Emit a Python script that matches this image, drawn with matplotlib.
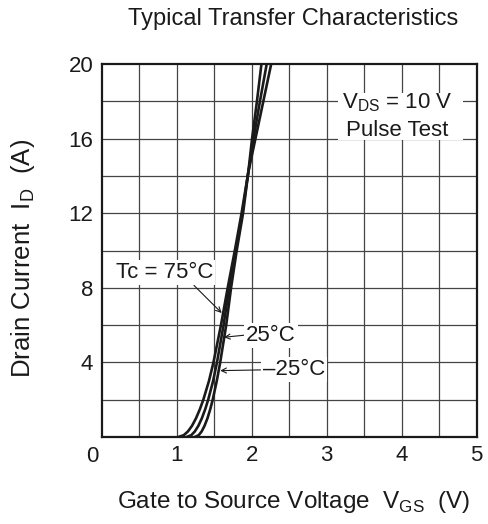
import matplotlib
matplotlib.use("Agg")
import matplotlib.pyplot as plt
from matplotlib.patches import Rectangle

FONT = ["Liberation Sans", "DejaVu Sans"]
plt.rcParams["font.family"] = FONT
plt.rcParams["mathtext.fontset"] = "custom"
plt.rcParams["mathtext.rm"] = "Liberation Sans"

# Transfer curves (I_D in A, V_GS in V)
id_pts = [0, 0.1, 0.3, 0.6, 1.0, 1.5, 2.0, 3.0, 4.0, 6.0, 8.0, 10.0, 12.0, 14.2, 16.0, 18.0, 20.0]
vgs_75 = [1.02, 1.095, 1.15, 1.204, 1.257, 1.31, 1.355, 1.43, 1.49, 1.59, 1.68, 1.775, 1.865,
          1.955, 2.05, 2.155, 2.26]
vgs_25 = [1.13, 1.195, 1.242, 1.289, 1.335, 1.381, 1.42, 1.485, 1.537, 1.625, 1.70, 1.79, 1.875,
          1.955, 2.025, 2.11, 2.20]
vgs_m25 = [1.24, 1.294, 1.333, 1.371, 1.41, 1.448, 1.48, 1.534, 1.58, 1.66, 1.725, 1.80, 1.885,
           1.955, 2.005, 2.07, 2.13]

x_ticks = [1, 2, 3, 4, 5]
y_ticks = [4, 8, 12, 16, 20]

INK = "#1a1a1a"
FS = 16

fig = plt.figure(figsize=(4.88, 5.24), dpi=100)
ax = fig.add_axes([0.2084, 0.166, 0.7684, 0.7118])
ax.set_xlim(0, 5)
ax.set_ylim(0, 20)

# grid every 0.5 V / 2 A
for gx in [i * 0.5 for i in range(1, 10)]:
    ax.axvline(gx, color="#444444", lw=0.9, zorder=1)
for gy in range(2, 20, 2):
    ax.axhline(gy, color="#444444", lw=0.9, zorder=1)

ax.add_patch(Rectangle((3.15, 15.95), 1.67, 2.5, facecolor="white", edgecolor="none", zorder=2))

for v in [vgs_75, vgs_25, vgs_m25]:
    ax.plot(v, id_pts, color=INK, lw=1.9, zorder=3, solid_capstyle="butt")

for s in ax.spines.values():
    s.set_linewidth(1.6)
    s.set_color(INK)
    s.set_zorder(5)

ax.set_xticks(x_ticks)
ax.set_yticks(y_ticks)
ax.tick_params(length=0, labelsize=FS, pad=6, colors=INK)
ax.text(-0.13, -0.052, "0", transform=ax.get_xaxis_transform(), ha="center", va="center",
        fontsize=FS, color=INK)

ax.text(3.94, 17.9, r"V$_\mathregular{DS}$ = 10 V", ha="center", va="center", fontsize=FS,
        color=INK, zorder=4)
ax.text(3.94, 16.45, "Pulse Test", ha="center", va="center", fontsize=FS, color=INK, zorder=4)

arrow = dict(arrowstyle="->", color=INK, lw=0.8, mutation_scale=9, shrinkA=0, shrinkB=0)
box = dict(facecolor="white", edgecolor="none", pad=1.5)
ax.annotate("Tc = 75°C", xy=(1.60, 6.65), xytext=(0.84, 8.8), ha="center", va="center",
            fontsize=FS, color=INK, bbox=box, zorder=4,
            arrowprops=dict(arrow, relpos=(0.78, 0.0)))
ax.annotate("25°C", xy=(1.63, 5.35), xytext=(2.26, 5.47), ha="center", va="center",
            fontsize=FS, color=INK, bbox=box, zorder=4,
            arrowprops=dict(arrow, relpos=(0.0, 0.5)))
ax.annotate("\u201325°C", xy=(1.58, 3.56), xytext=(2.56, 3.6), ha="center", va="center",
            fontsize=FS, color=INK, bbox=box, zorder=4,
            arrowprops=dict(arrow, relpos=(0.0, 0.5)))

fig.text(0.601, 1 - 19 / 524, "Typical Transfer Characteristics", ha="center", va="center",
         fontsize=17, color=INK)
fig.text(0.602, 1 - 502 / 524, r"Gate to Source Voltage  V$_\mathregular{GS}$  (V)",
         ha="center", va="center", fontsize=17.5, color=INK)
fig.text(23 / 488, 1 - 258 / 524, r"Drain Current  I$_\mathregular{D}$  (A)", ha="center",
         va="center", rotation=90, fontsize=18.5, color=INK)

fig.savefig("out.png", dpi=100, facecolor="white")
